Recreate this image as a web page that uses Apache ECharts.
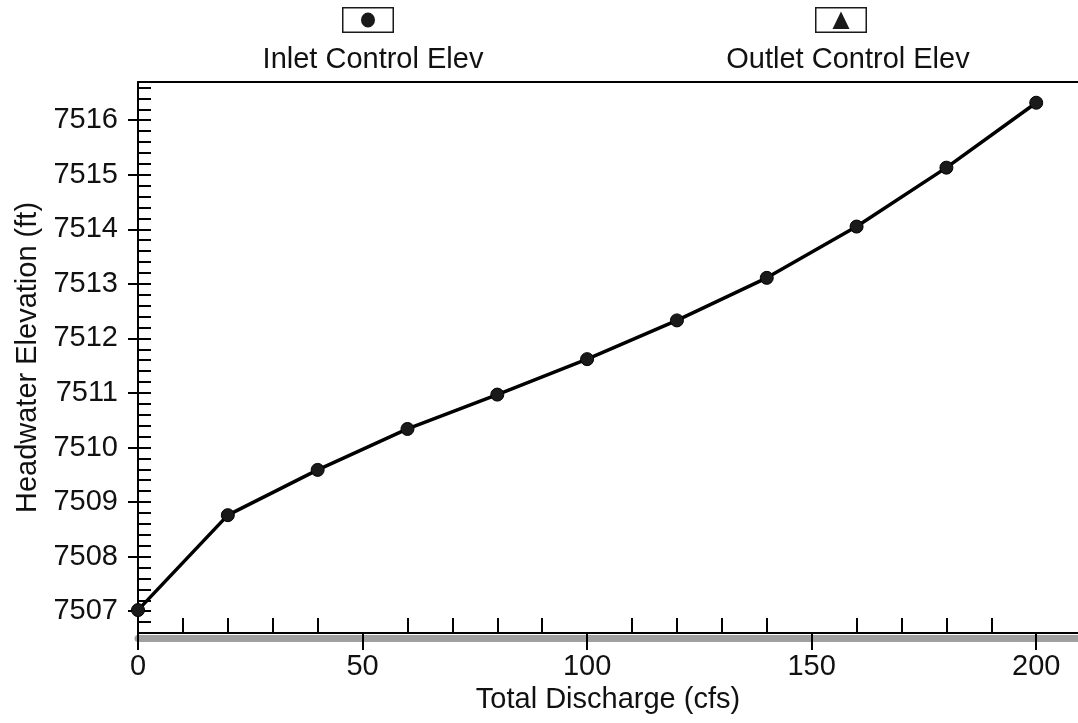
<!DOCTYPE html>
<html>
<head>
<meta charset="utf-8">
<title>Headwater Elevation vs Total Discharge</title>
<script src="https://cdn.jsdelivr.net/npm/echarts@6/dist/echarts.min.js"></script>
<style>
  html, body { margin: 0; padding: 0; background: #fff; }
  #chart { width: 1078px; height: 723px; }
</style>
</head>
<body>
<div id="chart"></div>
<script>
// data
const discharge = [0, 20, 40, 60, 80, 100, 120, 140, 160, 180, 200]
const inletElev = [7507.02, 7508.76, 7509.59, 7510.34, 7510.97, 7511.62, 7512.33, 7513.11, 7514.05, 7515.13, 7516.32]
const outletElev = []

// tick labels
const xMajorTicks = [0, 50, 100, 150, 200]
const xMinorTicks = [10, 20, 30, 40, 60, 70, 80, 90, 110, 120, 130, 140, 160, 170, 180, 190]
const yMajorTicks = [7507, 7508, 7509, 7510, 7511, 7512, 7513, 7514, 7515, 7516]

const X_MIN = 0
const X_MAX = 209.3
const Y_MIN = 7506.6
const Y_MAX = 7516.7
const Y_MINOR_STEP = 0.2

const FONT = 'Liberation Sans, Arial, sans-serif'

const chart = echarts.init(document.getElementById('chart'))

// legend icon: framed box with the series marker inside
const inletIcon = 'path://M0,0H52V26H0Z M1.5,1.5V24.5H50.5V1.5Z M19,13A7,7.5 0 1,1 33,13A7,7.5 0 1,1 19,13Z'
const outletIcon = 'path://M0,0H52V26H0Z M1.5,1.5V24.5H50.5V1.5Z M17.5,22L26,4.5L34.5,22Z'

const baseX = {
  type: 'value',
  min: X_MIN,
  max: X_MAX,
  splitLine: { show: false },
  axisLabel: { show: false },
  axisTick: { show: false },
  axisLine: { show: false }
}

const baseY = {
  type: 'value',
  min: Y_MIN,
  max: Y_MAX,
  splitLine: { show: false },
  axisLabel: { show: false },
  axisTick: { show: false },
  axisLine: { show: false }
}

const option = {
  backgroundColor: '#fff',
  animation: false,
  title: [
    {
      text: 'Inlet Control Elev',
      left: 368,
      top: 40,
      textAlign: 'center',
      textStyle: { fontFamily: FONT, fontSize: 29, fontWeight: 'normal', color: '#111' }
    },
    {
      text: 'Outlet Control Elev',
      left: 843,
      top: 40,
      textAlign: 'center',
      textStyle: { fontFamily: FONT, fontSize: 29, fontWeight: 'normal', color: '#111' }
    }
  ],
  legend: [
    {
      data: [{ name: 'Inlet Control Elev', icon: inletIcon }],
      left: 342,
      top: 7,
      padding: 0,
      itemWidth: 52,
      itemHeight: 26,
      selectedMode: false,
      formatter: () => '',
      itemStyle: { borderWidth: 0 }
    },
    {
      data: [{ name: 'Outlet Control Elev', icon: outletIcon }],
      left: 815,
      top: 7,
      padding: 0,
      itemWidth: 52,
      itemHeight: 26,
      selectedMode: false,
      formatter: () => '',
      itemStyle: { borderWidth: 0 }
    }
  ],
  grid: {
    left: 138,
    right: 0,
    top: 82,
    bottom: 90
  },
  xAxis: [
    {
      ...baseX,
      position: 'bottom',
      name: 'Total Discharge (cfs)',
      nameLocation: 'middle',
      nameGap: 44,
      nameTextStyle: { fontFamily: FONT, fontSize: 29, color: '#111' },
      axisLine: { show: true, onZero: false, lineStyle: { color: '#000', width: 2 } },
      axisTick: {
        show: true,
        inside: false,
        length: 17,
        customValues: xMajorTicks,
        lineStyle: { color: '#000', width: 2 }
      },
      axisLabel: {
        show: true,
        customValues: xMajorTicks,
        margin: 19,
        fontFamily: FONT,
        fontSize: 29,
        color: '#111'
      }
    },
    {
      // minor ticks pointing into the plot
      ...baseX,
      position: 'bottom',
      axisTick: {
        show: true,
        inside: true,
        length: 15,
        customValues: xMinorTicks,
        lineStyle: { color: '#000', width: 2 }
      }
    },
    {
      // grey strip under the axis
      ...baseX,
      position: 'bottom',
      offset: 5,
      axisLine: { show: true, onZero: false, lineStyle: { color: '#a0a0a0', width: 7 } }
    },
    {
      // top frame
      ...baseX,
      position: 'top',
      axisLine: { show: true, onZero: false, lineStyle: { color: '#000', width: 2 } }
    }
  ],
  yAxis: [
    {
      ...baseY,
      position: 'left',
      name: 'Headwater Elevation (ft)',
      nameLocation: 'middle',
      nameGap: 95,
      nameTextStyle: { fontFamily: FONT, fontSize: 29, color: '#111' },
      axisLine: { show: true, onZero: false, lineStyle: { color: '#000', width: 2 } },
      axisTick: {
        show: true,
        inside: false,
        length: 10,
        customValues: yMajorTicks,
        lineStyle: { color: '#000', width: 2 }
      },
      axisLabel: {
        show: true,
        customValues: yMajorTicks,
        formatter: (v) => String(Math.round(v)),
        margin: 20,
        fontFamily: FONT,
        fontSize: 29,
        color: '#111'
      }
    },
    {
      // minor ticks every 0.2 ft, pointing into the plot
      ...baseY,
      position: 'left',
      interval: Y_MINOR_STEP,
      axisTick: {
        show: true,
        inside: true,
        length: 13,
        lineStyle: { color: '#000', width: 2 }
      }
    }
  ],
  series: [
    {
      name: 'Inlet Control Elev',
      type: 'line',
      xAxisIndex: 0,
      yAxisIndex: 0,
      data: discharge.map((q, i) => [q, inletElev[i]]),
      symbol: 'circle',
      symbolSize: 13,
      showAllSymbol: true,
      lineStyle: { color: '#000', width: 3.5 },
      itemStyle: { color: '#1a1a1a', borderColor: '#000', borderWidth: 1 },
      z: 3
    },
    {
      name: 'Outlet Control Elev',
      type: 'line',
      xAxisIndex: 0,
      yAxisIndex: 0,
      data: outletElev,
      symbol: 'triangle',
      symbolSize: 14,
      lineStyle: { color: '#000', width: 3 },
      itemStyle: { color: '#1a1a1a' }
    }
  ]
}

chart.setOption(option)
window.addEventListener('resize', () => chart.resize())
</script>
</body>
</html>
